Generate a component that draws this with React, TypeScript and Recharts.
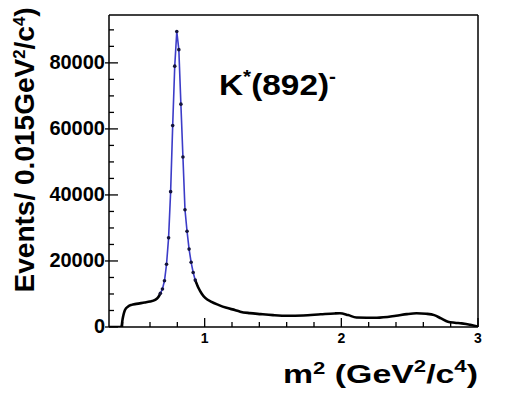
import React from 'react';
import { LineChart, Line, XAxis, YAxis, ReferenceLine, Label } from 'recharts';

// m^2 (GeV^2/c^4)
const mass = [
  0.30, 0.39, 0.40, 0.417, 0.44, 0.465, 0.50, 0.56, 0.60, 0.637, 0.66, 0.676,
  0.691, 0.706, 0.721, 0.736, 0.751, 0.766, 0.781, 0.796, 0.811, 0.826, 0.841,
  0.856, 0.871, 0.886, 0.901, 0.916, 0.931, 0.955, 0.98, 1.004, 1.05, 1.10,
  1.16, 1.225, 1.26, 1.33, 1.41, 1.50, 1.605, 1.72, 1.85, 1.95, 1.99, 2.05,
  2.11, 2.26, 2.40, 2.48, 2.55, 2.62, 2.68, 2.73, 2.78, 2.83, 2.88, 2.94, 2.98, 3.00,
];

// events per 0.015 GeV^2/c^4
const events = [
  0, 0, 2500, 5150, 6200, 6700, 7000, 7400, 7700, 8200, 9000, 10200,
  11500, 14000, 19000, 27000, 41000, 61000, 79000, 89500, 84000, 67500, 51500,
  35500, 29000, 23600, 19600, 16500, 14200, 11800, 10000, 8800, 7600, 6700,
  5800, 5100, 4650, 4200, 3900, 3600, 3400, 3500, 3850, 4100, 4150, 3600,
  2900, 2800, 3400, 3900, 4150, 4000, 3600, 2600, 1600, 1300, 1100, 700, 300, 0,
];

const xTicks = [0.4, 0.6, 0.8, 1, 1.2, 1.4, 1.6, 1.8, 2, 2.2, 2.4, 2.6, 2.8, 3];
const xMajor = [1, 2, 3];
const yTicks = [0, 5000, 10000, 15000, 20000, 25000, 30000, 35000, 40000, 45000,
  50000, 55000, 60000, 65000, 70000, 75000, 80000, 85000, 90000];
const yMajor = [0, 20000, 40000, 60000, 80000];

const X_MIN = 0.3;
const X_MAX = 3;
const Y_MAX = 94500;
// range where the fitted resonance (blue) is drawn
const PEAK_LO = 0.66;
const PEAK_HI = 0.955;

const rows = mass.map((m, i) => {
  const inPeak = m >= PEAK_LO && m <= PEAK_HI;
  const inBg = m <= 0.676 || m >= 0.931;
  return { m, bg: inBg ? events[i] : null, fit: inPeak ? events[i] : null };
});

const FONT = '"Liberation Sans", Arial, Helvetica, sans-serif';

function XTick(props: any) {
  const { x, y, payload } = props;
  const major = xMajor.includes(payload.value);
  return (
    <g>
      <line x1={x} y1={y} x2={x} y2={y - (major ? 9 : 5)} stroke="#000" strokeWidth={1.3} />
      {major && (
        <text x={x} y={y + 16} textAnchor="middle" fontFamily={FONT} fontWeight="bold" fontSize={14} fill="#000">
          {payload.value}
        </text>
      )}
    </g>
  );
}

function YTick(props: any) {
  const { x, y, payload } = props;
  const major = yMajor.includes(payload.value);
  return (
    <g>
      <line x1={major ? x - 4 : x} y1={y} x2={x + (major ? 9 : 5)} y2={y} stroke="#000" strokeWidth={1.3} />
      {major && (
        <text x={x - 4} y={y + 6} textAnchor="end" fontFamily={FONT} fontWeight="bold" fontSize={20} fill="#000">
          {payload.value}
        </text>
      )}
    </g>
  );
}

function PeakDot(props: any) {
  const { cx, cy, payload } = props;
  if (payload.fit == null || payload.m < 0.67 || payload.m > 0.94) return null;
  return <circle cx={cx} cy={cy} r={1.8} fill="#14143c" />;
}

export default function App() {
  return (
    <LineChart
      width={502}
      height={390}
      data={rows}
      margin={{ top: 7, right: 32, bottom: 0, left: 0 }}
    >
      <XAxis
        dataKey="m"
        type="number"
        domain={[X_MIN, X_MAX]}
        ticks={xTicks}
        interval={0}
        height={71}
        tickSize={0}
        tickMargin={0}
        tickLine={false}
        tick={<XTick />}
        axisLine={{ stroke: '#000', strokeWidth: 1.5 }}
        allowDataOverflow
      >
        <Label
          content={(p: any) => {
            const vb = p.viewBox;
            return (
              <text
                x={vb.x + vb.width - 195}
                y={vb.y + 56}
                fontFamily={FONT}
                fontWeight="bold"
                fontSize={26}
                fill="#000"
                textLength={195}
                lengthAdjust="spacingAndGlyphs"
              >
                m<tspan dy={-9} fontSize={17}>2</tspan>
                <tspan dy={9}> (GeV</tspan>
                <tspan dy={-11} fontSize={17}>2</tspan>
                <tspan dy={11}>/c</tspan>
                <tspan dy={-11} fontSize={17}>4</tspan>
                <tspan dy={11}>)</tspan>
              </text>
            );
          }}
        />
      </XAxis>
      <YAxis
        type="number"
        domain={[0, Y_MAX]}
        ticks={yTicks}
        interval={0}
        width={101}
        tickSize={0}
        tickMargin={0}
        tickLine={false}
        tick={<YTick />}
        axisLine={{ stroke: '#000', strokeWidth: 1.5 }}
        allowDataOverflow
      >
        <Label
          content={() => (
            <text
              x={26}
              y={142}
              transform="rotate(-90 26 142)"
              textAnchor="middle"
              fontFamily={FONT}
              fontWeight="bold"
              fontSize={27}
              fill="#000"
              textLength={285}
              lengthAdjust="spacingAndGlyphs"
            >
              Events/ 0.015GeV<tspan dy={-9} fontSize={16}>2</tspan>
              <tspan dy={9}>/c</tspan>
              <tspan dy={-9} fontSize={16}>4</tspan>
              <tspan dy={9}>)</tspan>
            </text>
          )}
        />
      </YAxis>
      <ReferenceLine y={Y_MAX} stroke="#000" strokeWidth={1.5}>
        <Label
          content={(p: any) => {
            const vb = p.viewBox;
            return (
              <text
                x={vb.x + 110}
                y={vb.y + 80}
                fontFamily={FONT}
                fontWeight="bold"
                fontSize={29}
                fill="#000"
                textLength={117}
                lengthAdjust="spacingAndGlyphs"
              >
                K<tspan dy={-12} fontSize={18}>*</tspan>
                <tspan dy={12}>(892)</tspan>
                <tspan dy={-12} fontSize={18}>-</tspan>
              </text>
            );
          }}
        />
      </ReferenceLine>
      <ReferenceLine x={X_MAX} stroke="#000" strokeWidth={1.5} />
      <Line
        dataKey="fit"
        type="linear"
        stroke="#3c3cc8"
        strokeWidth={1.6}
        dot={<PeakDot />}
        activeDot={false}
        isAnimationActive={false}
      />
      <Line
        dataKey="bg"
        type="monotone"
        stroke="#000"
        strokeWidth={2.6}
        dot={false}
        activeDot={false}
        isAnimationActive={false}
      />
    </LineChart>
  );
}
